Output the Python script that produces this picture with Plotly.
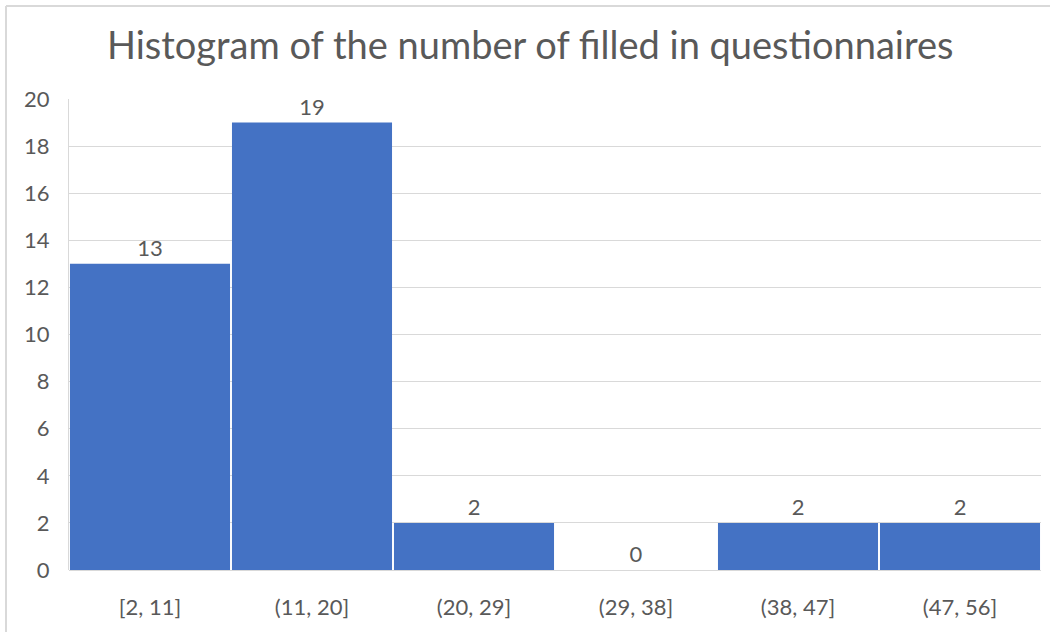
import plotly.graph_objects as go

categories = ["[2, 11]", "(11, 20]", "(20, 29]", "(29, 38]", "(38, 47]", "(47, 56]"]
counts = [13, 19, 2, 0, 2, 2]
y_ticks = list(range(0, 21, 2))

FONT = "Lato"
GRAY = "#595959"

fig = go.Figure(go.Bar(
    x=categories,
    y=counts,
    text=[str(c) for c in counts],
    textposition="outside",
    textfont=dict(family=FONT, size=22, color=GRAY),
    marker=dict(color="#4472C4", line=dict(width=0)),
    cliponaxis=False,
))

fig.update_layout(
    width=1050, height=632,
    margin=dict(l=69, r=9, t=99, b=62),
    paper_bgcolor="white", plot_bgcolor="white",
    bargap=0.012,
    showlegend=False,
    title=dict(text="Histogram of the number of filled in questionnaires",
               x=0.505, xanchor="center", y=0.928, yanchor="middle",
               font=dict(family=FONT, size=38, color=GRAY)),
    font=dict(family=FONT, color=GRAY),
)
fig.update_xaxes(showgrid=False, showline=False, ticks="",
                 tickfont=dict(family=FONT, size=22, color=GRAY),
                 ticklabelstandoff=22)
fig.update_yaxes(range=[0, 20], tickvals=y_ticks, showgrid=True,
                 gridcolor="#d9d9d9", gridwidth=1, zeroline=True,
                 zerolinecolor="#d9d9d9", zerolinewidth=1,
                 showline=True, linecolor="#d9d9d9", linewidth=1,
                 ticks="", tickfont=dict(family=FONT, size=22, color=GRAY),
                 ticklabelstandoff=14)

# outer chart border (top and left edges visible)
fig.add_shape(type="line", xref="paper", yref="paper",
              x0=(6 - 69) / 972, x1=1.02, y0=(632 - 62 - 6) / 471, y1=(632 - 62 - 6) / 471,
              line=dict(color="#d9d9d9", width=2))
fig.add_shape(type="line", xref="paper", yref="paper",
              x0=(6 - 69) / 972, x1=(6 - 69) / 972, y0=-1, y1=(632 - 62 - 6) / 471,
              line=dict(color="#d9d9d9", width=2))

fig.write_html("out.html")
